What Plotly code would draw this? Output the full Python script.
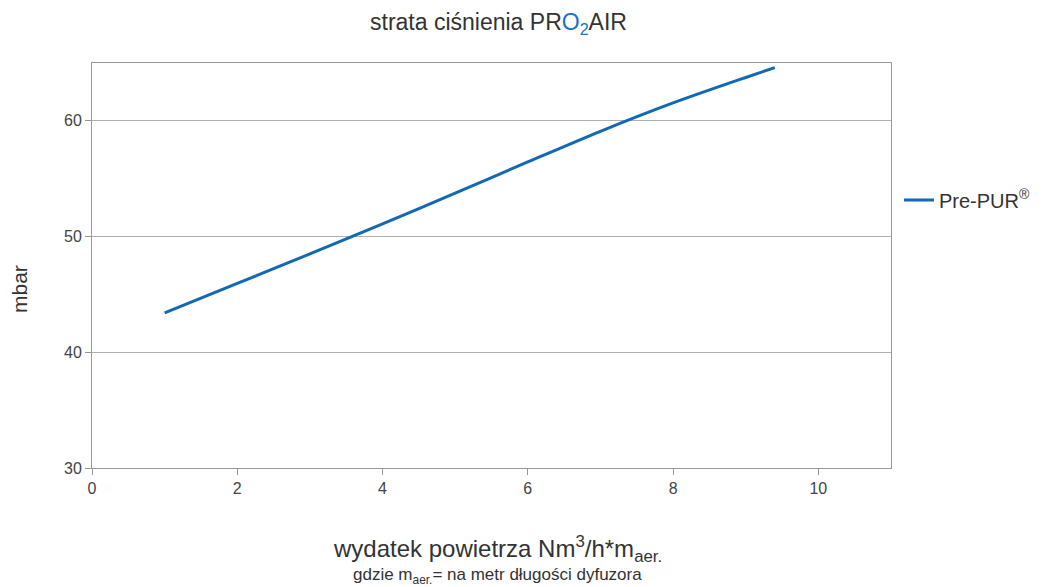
import plotly.graph_objects as go

x_vals = [1, 2, 3, 4, 5, 6, 7, 8, 9, 9.4]
y_vals = [43.4, 45.95, 48.5, 51.1, 53.75, 56.45, 59.1, 61.55, 63.75, 64.6]
series_name = "Pre-PUR<sup>®</sup>"

blue = "#1268b6"
fig = go.Figure()
fig.add_trace(go.Scatter(x=x_vals, y=y_vals, mode="lines", name=series_name,
                         line=dict(color=blue, width=3, shape="spline", smoothing=0.8)))

# page has an 8px body margin; figure is sized to fill the rest of the window
OFF = 8
W, H = 1042, 579
l, r, t, b = 84, 159, 55, 119
pw, ph = W - l - r, H - t - b


def px(xp):
    return (xp - OFF - l) / pw


def py(yp):
    return (H - b - (yp - OFF)) / ph


font_family = "Liberation Sans, Arial, sans-serif"
txt = "#333333"
fig.update_layout(
    width=W, height=H,
    paper_bgcolor="white", plot_bgcolor="white",
    margin=dict(l=l, r=r, t=t, b=b, autoexpand=False),
    font=dict(family=font_family, color=txt, size=16),
    showlegend=True,
    legend=dict(x=1.01, xanchor="left", y=py(200), yanchor="middle",
                font=dict(size=20, color=txt), bgcolor="rgba(0,0,0,0)"),
    xaxis=dict(range=[0, 11], tickvals=[0, 2, 4, 6, 8, 10], showgrid=False,
               showline=True, linecolor="#999999", linewidth=1, mirror=True,
               ticks="outside", ticklen=6, tickcolor="#999999",
               tickfont=dict(size=16, color="#444444"), zeroline=False, automargin=False),
    yaxis=dict(range=[30, 65], tickvals=[30, 40, 50, 60], showgrid=True,
               gridcolor="#b0b0b0", gridwidth=1,
               showline=True, linecolor="#999999", linewidth=1, mirror=True,
               ticks="outside", ticklen=6, tickcolor="#999999",
               tickfont=dict(size=16, color="#444444"), zeroline=False, automargin=False),
    annotations=[
        dict(text="strata ciśnienia PR<span style='color:#1a72c4'>O<sub>2</sub></span>AIR",
             x=px(498), y=py(23), xref="paper", yref="paper", showarrow=False,
             xanchor="center", yanchor="middle", font=dict(size=23, color=txt)),
        dict(text="wydatek powietrza Nm<sup>3</sup>/h*m<sub>aer.</sub>",
             x=px(497), y=py(549), xref="paper", yref="paper", showarrow=False,
             xanchor="center", yanchor="middle", font=dict(size=24, color=txt)),
        dict(text="gdzie m<sub>aer.</sub>= na metr długości dyfuzora",
             x=px(497), y=py(576), xref="paper", yref="paper", showarrow=False,
             xanchor="center", yanchor="middle", font=dict(size=17, color=txt)),
        dict(text="mbar", textangle=-90, x=px(19), y=py(289), xref="paper", yref="paper",
             showarrow=False, xanchor="center", yanchor="middle",
             font=dict(size=21, color=txt)),
    ],
)

fig.write_html("out.html")
